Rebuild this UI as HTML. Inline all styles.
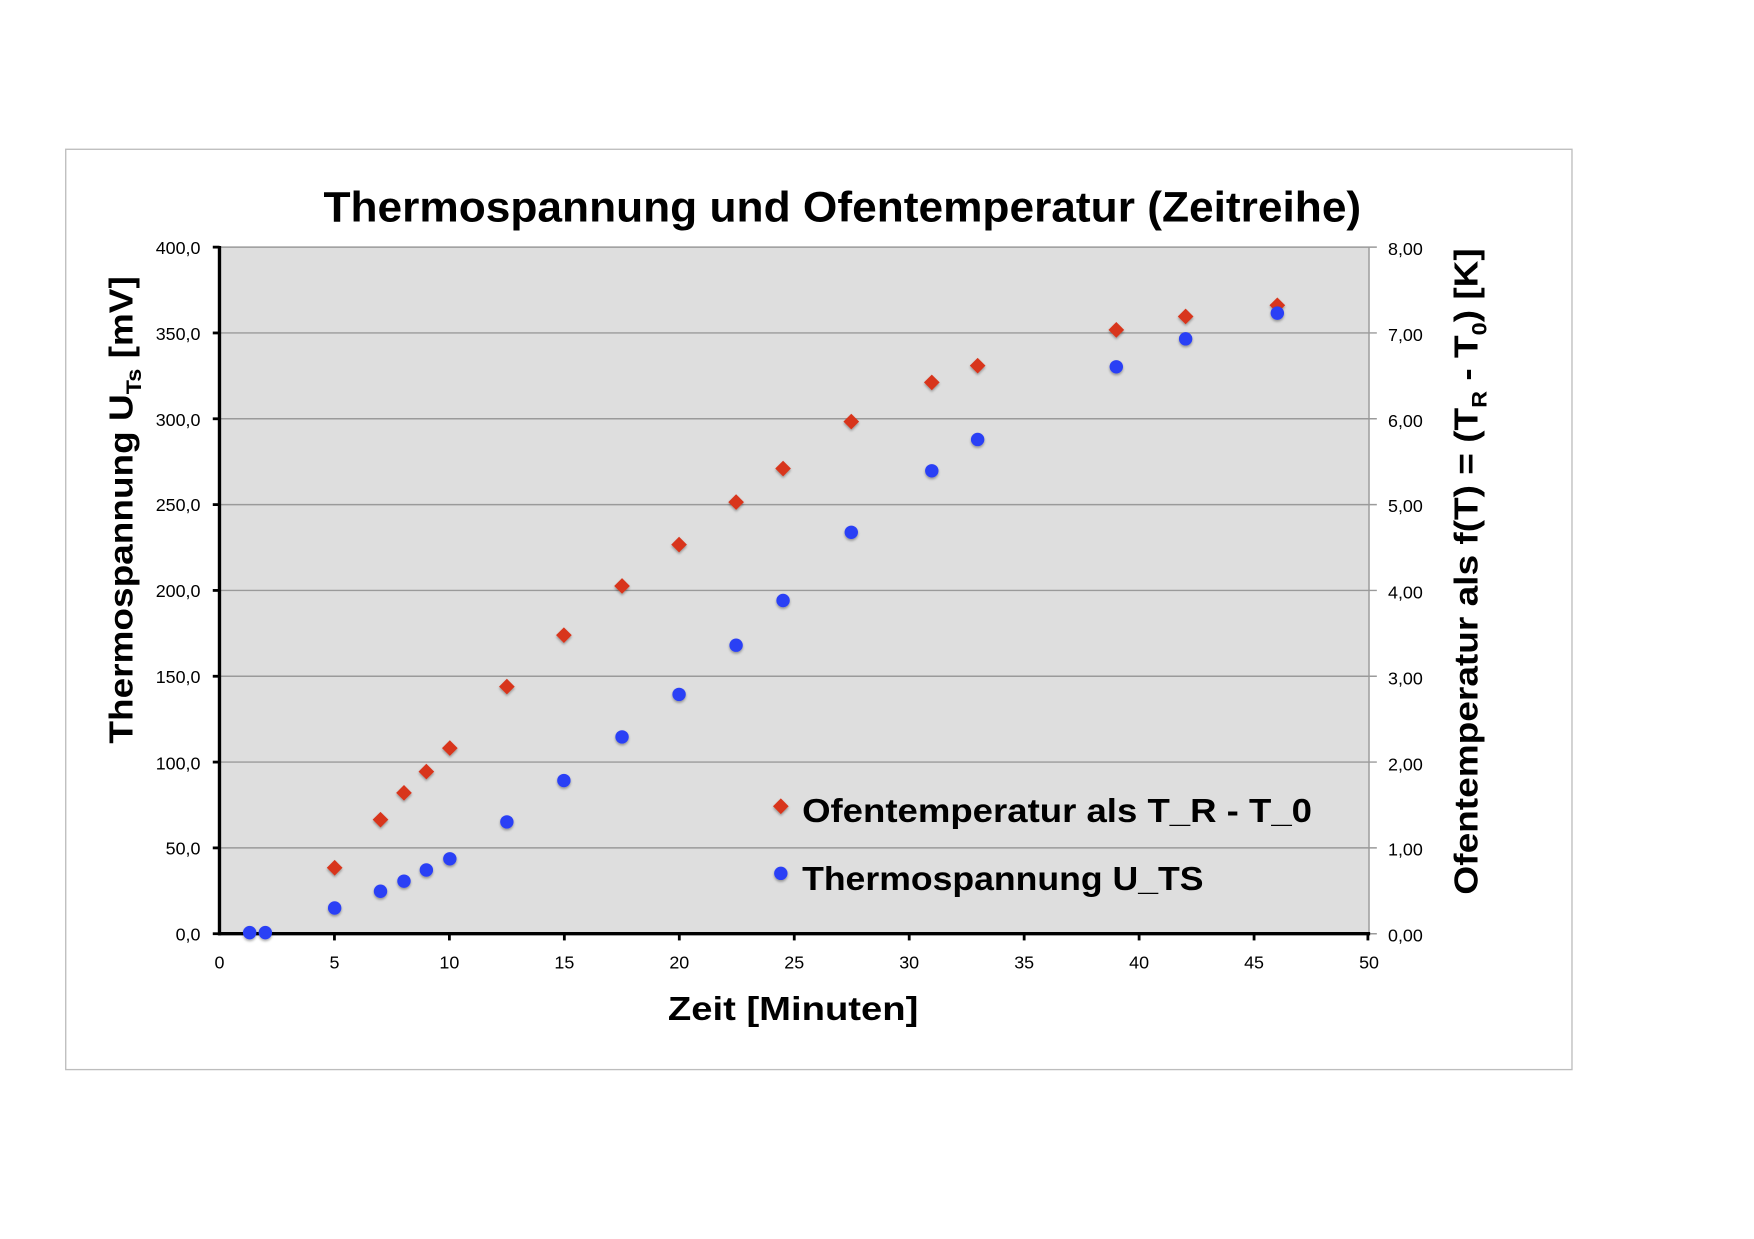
<!DOCTYPE html>
<html><head><meta charset="utf-8"><style>html,body{margin:0;padding:0;background:#fff;}svg{display:block}</style></head>
<body>
<svg width="1754" height="1239" viewBox="0 0 1568 1108" xmlns="http://www.w3.org/2000/svg" font-family="'Liberation Sans', sans-serif">
<defs>
<filter id="sh" x="-50%" y="-50%" width="200%" height="200%"><feDropShadow dx="0" dy="1.5" stdDeviation="1.2" flood-color="#000" flood-opacity="0.35"/></filter>
</defs>
<rect x="58.5" y="133.5" width="1347" height="823" fill="#fff" stroke="#bdbdbd" stroke-width="1.2"/>
<rect x="196" y="221" width="1028" height="614" fill="#dedede"/>
<g stroke="#9a9a9a" stroke-width="1.3">
<line x1="196" y1="221" x2="1231" y2="221"/>
<line x1="196" y1="297.75" x2="1231" y2="297.75"/>
<line x1="196" y1="374.5" x2="1231" y2="374.5"/>
<line x1="196" y1="451.25" x2="1231" y2="451.25"/>
<line x1="196" y1="528" x2="1231" y2="528"/>
<line x1="196" y1="604.75" x2="1231" y2="604.75"/>
<line x1="196" y1="681.5" x2="1231" y2="681.5"/>
<line x1="196" y1="758.25" x2="1231" y2="758.25"/>
<line x1="196" y1="835" x2="1231" y2="835"/>
<line x1="1224" y1="221" x2="1224" y2="835"/>
</g>
<g stroke="#000" stroke-width="3">
<line x1="196" y1="220" x2="196" y2="836.5"/>
<line x1="195" y1="835" x2="1225" y2="835"/>
</g>
<g stroke="#000" stroke-width="2.5">
<line x1="190" y1="221" x2="196" y2="221"/><line x1="190" y1="297.75" x2="196" y2="297.75"/><line x1="190" y1="374.5" x2="196" y2="374.5"/><line x1="190" y1="451.25" x2="196" y2="451.25"/><line x1="190" y1="528" x2="196" y2="528"/><line x1="190" y1="604.75" x2="196" y2="604.75"/><line x1="190" y1="681.5" x2="196" y2="681.5"/><line x1="190" y1="758.25" x2="196" y2="758.25"/><line x1="190" y1="835" x2="196" y2="835"/>
<line x1="298.8" y1="835" x2="298.8" y2="841"/><line x1="401.6" y1="835" x2="401.6" y2="841"/><line x1="504.4" y1="835" x2="504.4" y2="841"/><line x1="607.2" y1="835" x2="607.2" y2="841"/><line x1="710" y1="835" x2="710" y2="841"/><line x1="812.8" y1="835" x2="812.8" y2="841"/><line x1="915.6" y1="835" x2="915.6" y2="841"/><line x1="1018.4" y1="835" x2="1018.4" y2="841"/><line x1="1121.2" y1="835" x2="1121.2" y2="841"/><line x1="1223" y1="835" x2="1223" y2="841"/>
</g>
<text x="753" y="198" text-anchor="middle" font-size="38" font-weight="bold" textLength="928" lengthAdjust="spacingAndGlyphs">Thermospannung und Ofentemperatur (Zeitreihe)</text>
<g font-size="16" text-anchor="end">
<text x="179" y="227">400,0</text><text x="179" y="304">350,0</text><text x="179" y="381">300,0</text><text x="179" y="457">250,0</text><text x="179" y="534">200,0</text><text x="179" y="611">150,0</text><text x="179" y="688">100,0</text><text x="179" y="764">50,0</text><text x="179" y="841">0,0</text>
</g>
<g font-size="16" text-anchor="start">
<text x="1241" y="228">8,00</text><text x="1241" y="305">7,00</text><text x="1241" y="382">6,00</text><text x="1241" y="458">5,00</text><text x="1241" y="535">4,00</text><text x="1241" y="612">3,00</text><text x="1241" y="689">2,00</text><text x="1241" y="765">1,00</text><text x="1241" y="842">0,00</text>
</g>
<g font-size="16" text-anchor="middle">
<text x="196" y="866">0</text><text x="298.8" y="866">5</text><text x="401.6" y="866">10</text><text x="504.4" y="866">15</text><text x="607.2" y="866">20</text><text x="710" y="866">25</text><text x="812.8" y="866">30</text><text x="915.6" y="866">35</text><text x="1018.4" y="866">40</text><text x="1121.2" y="866">45</text><text x="1224" y="866">50</text>
</g>
<text x="709" y="912" text-anchor="middle" font-size="30" font-weight="bold" textLength="224" lengthAdjust="spacingAndGlyphs">Zeit [Minuten]</text>
<text transform="translate(118,456) rotate(-90)" text-anchor="middle" font-size="30" font-weight="bold" textLength="418" lengthAdjust="spacingAndGlyphs">Thermospannung U<tspan font-size="19" dy="8">Ts</tspan><tspan dy="-8">  [mV]</tspan></text>
<text transform="translate(1321,511) rotate(-90)" text-anchor="middle" font-size="30" font-weight="bold" textLength="578" lengthAdjust="spacingAndGlyphs">Ofentemperatur als f(T) = (T<tspan font-size="19" dy="8">R</tspan><tspan dy="-8"> - T</tspan><tspan font-size="19" dy="8">0</tspan><tspan dy="-8">)  [K]</tspan></text>
<g fill="#d8341a" filter="url(#sh)">
<path d="M698,714 l7,7 l-7,7 l-7,-7z"/>
<path d="M299,769 l7,7 l-7,7 l-7,-7z"/><path d="M340,726 l7,7 l-7,7 l-7,-7z"/><path d="M361,702 l7,7 l-7,7 l-7,-7z"/><path d="M381,683 l7,7 l-7,7 l-7,-7z"/><path d="M402,662 l7,7 l-7,7 l-7,-7z"/><path d="M453,607 l7,7 l-7,7 l-7,-7z"/><path d="M504,561 l7,7 l-7,7 l-7,-7z"/><path d="M556,517 l7,7 l-7,7 l-7,-7z"/><path d="M607,480 l7,7 l-7,7 l-7,-7z"/><path d="M658,442 l7,7 l-7,7 l-7,-7z"/><path d="M700,412 l7,7 l-7,7 l-7,-7z"/><path d="M761,370 l7,7 l-7,7 l-7,-7z"/><path d="M833,335 l7,7 l-7,7 l-7,-7z"/><path d="M874,320 l7,7 l-7,7 l-7,-7z"/><path d="M998,288 l7,7 l-7,7 l-7,-7z"/><path d="M1060,276 l7,7 l-7,7 l-7,-7z"/><path d="M1142,266 l7,7 l-7,7 l-7,-7z"/>
</g>
<g fill="#2b3ff5" filter="url(#sh)">
<circle cx="698" cy="781" r="6"/>
<circle cx="223" cy="834" r="6"/><circle cx="237" cy="834" r="6"/><circle cx="299" cy="812" r="6"/><circle cx="340" cy="797" r="6"/><circle cx="361" cy="788" r="6"/><circle cx="381" cy="778" r="6"/><circle cx="402" cy="768" r="6"/><circle cx="453" cy="735" r="6"/><circle cx="504" cy="698" r="6"/><circle cx="556" cy="659" r="6"/><circle cx="607" cy="621" r="6"/><circle cx="658" cy="577" r="6"/><circle cx="700" cy="537" r="6"/><circle cx="761" cy="476" r="6"/><circle cx="833" cy="421" r="6"/><circle cx="874" cy="393" r="6"/><circle cx="998" cy="328" r="6"/><circle cx="1060" cy="303" r="6"/><circle cx="1142" cy="280" r="6"/>
</g>
<text x="717" y="735" font-size="30" font-weight="bold" textLength="456" lengthAdjust="spacingAndGlyphs">Ofentemperatur als T_R - T_0</text>
<text x="717" y="796" font-size="30" font-weight="bold" textLength="359" lengthAdjust="spacingAndGlyphs">Thermospannung U_TS</text>
</svg>
</body></html>
